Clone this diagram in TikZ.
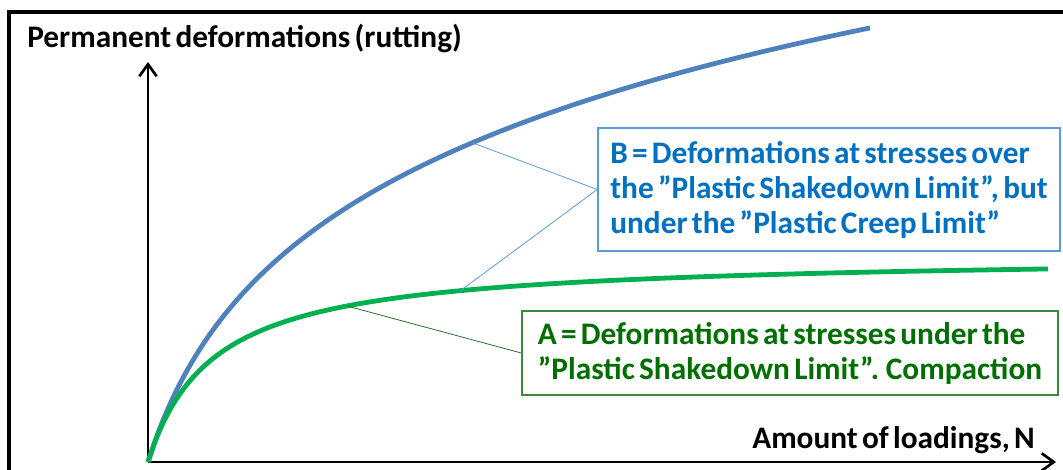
\documentclass[tikz,border=0pt]{standalone}
\usepackage{fontspec}
\setmainfont{Carlito}[WordSpace=0.6]
\usetikzlibrary{arrows.meta,positioning}

\definecolor{curveblue}{RGB}{79,129,189}
\definecolor{curvegreen}{RGB}{0,176,80}
\definecolor{textblue}{RGB}{0,112,192}
\definecolor{edgeblue}{RGB}{91,155,213}
\definecolor{textgreen}{RGB}{0,110,0}
\definecolor{edgegreen}{RGB}{56,140,56}

\begin{document}
\begin{tikzpicture}[
  x=0.75pt, y=-0.75pt,
  font=\fontsize{23.5}{28}\selectfont\bfseries,
  axis/.style={line width=2.2pt, -{Straight Barb[length=9pt, width=13pt, line width=2pt]}},
  curveB/.style={line width=3.6pt, draw=curveblue},
  curveA/.style={line width=3.6pt, draw=curvegreen},
  boxB/.style={draw=edgeblue, line width=1.2pt, text=textblue, align=left,
               font=\fontsize{23.5}{26.25}\selectfont\bfseries,
               minimum width=346.5pt, minimum height=92pt},
  boxA/.style={draw=edgegreen, line width=1.2pt, text=textgreen, align=left,
               font=\fontsize{23.5}{26.25}\selectfont\bfseries,
               minimum width=402pt, minimum height=63pt},
  leadB/.style={draw=edgeblue, line width=0.6pt},
  leadA/.style={draw=edgegreen!80!black, line width=0.6pt}
]
\useasboundingbox (0,0) rectangle (1063,470);

% ---------------- frame ----------------
\draw[line width=3pt] (1070,12) -| (9,480);

% ---------------- axes ----------------
\coordinate (O) at (148,462);
\coordinate (ytip) at (148,62);
\coordinate (xtip) at (1056,462);
\draw[axis] (O) -- (ytip);
\draw[axis] (O) -- (xtip);

\node[anchor=base west, inner sep=0pt] (ylab) at (27,48) {Permanent deformations (rutting)};
\node[anchor=base west, inner sep=0pt] (xlab) at (752,448) {Amount of loadings, N};

% ---------------- curves ----------------
\draw[curveB] plot[domain=0:722, samples=120, smooth]
  ({148+\x}, {462-158.6*ln(1+\x/50)});
\draw[curveA] plot[domain=0:900, samples=120, smooth]
  ({148+\x}, {462-207*(\x/(65+\x))});

\coordinate (hitB) at (473,143);
\coordinate (hitAB) at (460,291);
\coordinate (hitA) at (347,306);

% ---------------- callouts ----------------
\node[boxB] (B) at (829,189.5)
  {B = Deformations at stresses over\\
   the ”Plastic Shakedown Limit”, but\\
   under the ”Plastic Creep Limit”};
\node[boxA] (A) at (790,353)
  {A = Deformations at stresses under the\\
   ”Plastic Shakedown Limit”. Compaction};

\draw[leadB] (hitB) -- (B.west);
\draw[leadB] (hitAB) -- (B.west);
\draw[leadA] (hitA) -- (A.west);

\end{tikzpicture}
\end{document}
